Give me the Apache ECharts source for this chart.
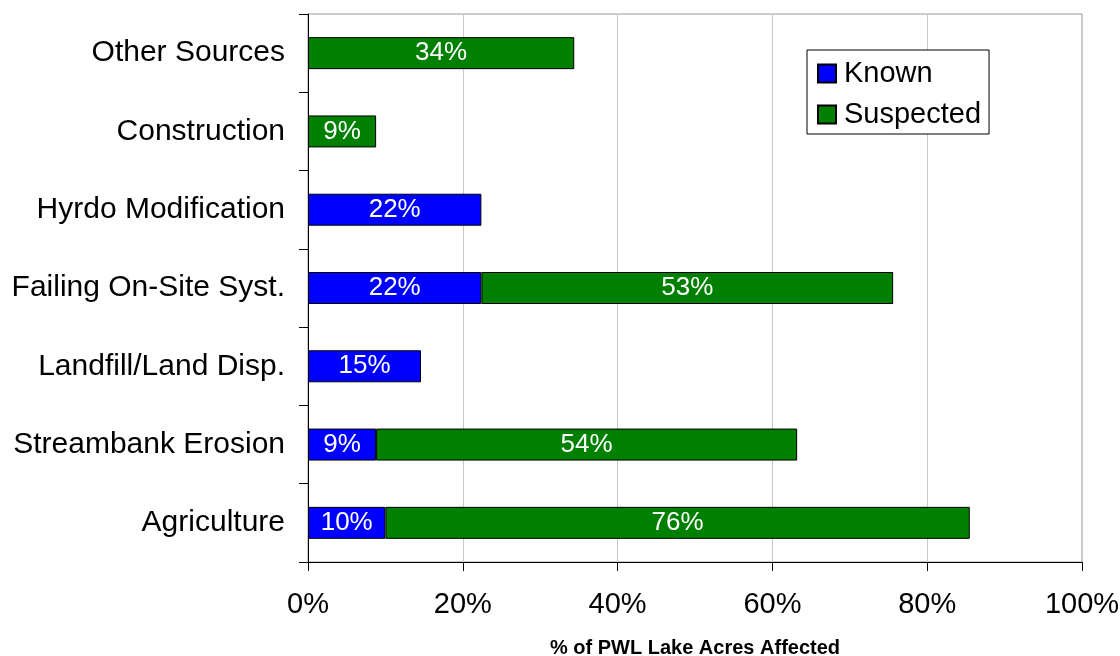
<!DOCTYPE html>
<html><head><meta charset="utf-8">
<script src="https://cdn.jsdelivr.net/npm/echarts@6/dist/echarts.min.js"></script>
<style>html,body{margin:0;padding:0;background:#fff}#c{width:1120px;height:656px}</style>
</head><body><div id="c"></div>
<script>
const categories = ["Agriculture","Streambank Erosion","Landfill/Land Disp.","Failing On-Site Syst.","Hyrdo Modification","Construction","Other Sources"];
const known = [10.0, 8.8, 14.6, 22.4, 22.4, null, null];
const suspected = [75.5, 54.4, null, 53.2, null, 8.8, 34.4];
const xTicks = [0, 20, 40, 60, 80, 100];

const chart = echarts.init(document.getElementById('c'), null, {renderer:'canvas'});
const font = "'Liberation Sans', Arial, sans-serif";
const lbl = {show:true, position:'inside', color:'#fff', fontSize:26, fontFamily:font,
  formatter: p => Math.round(p.value) + '%'};
chart.setOption({
  animation:false,
  grid:{left:308, right:38, top:14, bottom:94, show:true, borderColor:'#999', borderWidth:1,
    containLabel:false, outerBoundsMode:'none'},
  legend:{orient:'vertical', left:807, top:50, padding:[9,8,5,10], itemGap:12,
    borderColor:'#000', borderWidth:1, backgroundColor:'#fff',
    itemWidth:18, itemHeight:18, icon:'rect',
    textStyle:{fontSize:29, fontFamily:font, color:'#000', padding:[0,0,0,3]},
    data:['Known','Suspected']},
  xAxis:{type:'value', min:0, max:100, interval:20,
    axisLine:{show:true, lineStyle:{color:'#000', width:1}},
    axisTick:{show:true, length:9, lineStyle:{color:'#000'}},
    splitLine:{show:true, lineStyle:{color:'#c8c8c8', width:1}},
    axisLabel:{fontSize:29, fontFamily:font, color:'#000', margin:28,
      formatter: v => xTicks.includes(v) ? v + '%' : ''},
    name:'% of PWL Lake Acres Affected', nameLocation:'middle', nameGap:76,
    nameTextStyle:{fontSize:20, fontWeight:'bold', fontFamily:font, color:'#000'}},
  yAxis:{type:'category', data:categories,
    axisLine:{show:true, lineStyle:{color:'#000', width:1}},
    axisTick:{show:true, length:9, lineStyle:{color:'#000'}},
    axisLabel:{fontSize:30, fontFamily:font, color:'#000', margin:23, padding:[3,0,0,0]}},
  series:[
    {name:'Known', type:'bar', stack:'a', data:known, barWidth:32,
     itemStyle:{color:'#0000ff', borderColor:'#000', borderWidth:1}, label:lbl},
    {name:'Suspected', type:'bar', stack:'a', data:suspected, barWidth:32,
     itemStyle:{color:'#008000', borderColor:'#000', borderWidth:1}, label:lbl}
  ]
});
</script></body></html>
